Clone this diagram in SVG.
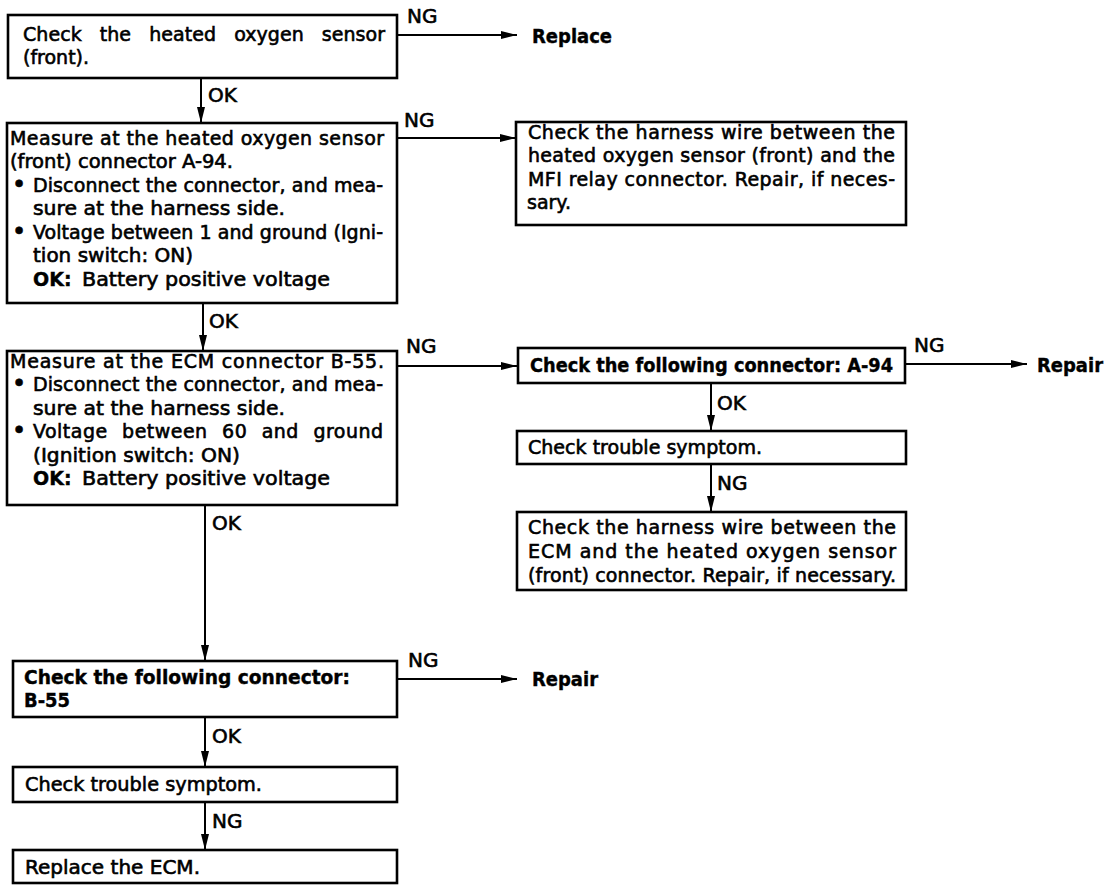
<svg xmlns="http://www.w3.org/2000/svg" width="1120" height="896" viewBox="0 0 1120 896">
<defs>
<style>
.t{font-family:"DejaVu Sans","Liberation Sans",sans-serif;font-size:19px;fill:#000;stroke:#000;stroke-width:0.6}
.b{font-weight:bold;stroke-width:0.4}
.lb{font-family:"DejaVu Sans","Liberation Sans",sans-serif;font-size:20px;fill:#000;stroke:#000;stroke-width:0.6}
.bx{fill:#fff;stroke:#000;stroke-width:2.6}
.c{stroke:#000;stroke-width:2;fill:none;marker-end:url(#ah)}
.bul{font-size:24px}
</style>
<marker id="ah" markerUnits="userSpaceOnUse" markerWidth="16" markerHeight="8" refX="16" refY="4" orient="auto">
<path d="M0,0 L16,4 L0,8 Z" fill="#000"/>
</marker>
</defs>
<rect width="1120" height="896" fill="#fff"/>

<g id="connectors">
<line class="c" x1="397" y1="35" x2="517" y2="35"/>
<line class="c" x1="201" y1="78" x2="201" y2="123"/>
<line class="c" x1="397" y1="138" x2="516" y2="138"/>
<line class="c" x1="203" y1="303" x2="203" y2="351"/>
<line class="c" x1="397" y1="366" x2="517" y2="366"/>
<line class="c" x1="905" y1="364" x2="1027" y2="364"/>
<line class="c" x1="711" y1="383" x2="711" y2="431"/>
<line class="c" x1="711" y1="464" x2="711" y2="512"/>
<line class="c" x1="205" y1="505" x2="205" y2="661"/>
<line class="c" x1="397" y1="679" x2="517" y2="679"/>
<line class="c" x1="205" y1="717" x2="205" y2="767"/>
<line class="c" x1="205" y1="802" x2="205" y2="850"/>
<text class="lb" x="407" y="23">NG</text>
<text class="lb" x="208" y="102">OK</text>
<text class="lb" x="404" y="127">NG</text>
<text class="lb" x="209" y="328">OK</text>
<text class="lb" x="406" y="353">NG</text>
<text class="lb" x="914" y="352">NG</text>
<text class="lb" x="717" y="410">OK</text>
<text class="lb" x="717" y="490">NG</text>
<text class="lb" x="212" y="530">OK</text>
<text class="lb" x="408" y="667">NG</text>
<text class="lb" x="212" y="743">OK</text>
<text class="lb" x="212" y="828">NG</text>
</g>

<g id="n1">
<rect class="bx" x="8" y="15" width="389" height="63"/>
<text class="t" x="23" y="41" style="word-spacing:12px" textLength="362" lengthAdjust="spacing">Check the heated oxygen sensor</text>
<text class="t" x="23" y="64">(front).</text>
</g>

<g id="replace1">
<text class="t b" x="532" y="43" textLength="80" lengthAdjust="spacingAndGlyphs">Replace</text>
</g>

<g id="n2">
<rect class="bx" x="7" y="123" width="390" height="180"/>
<text class="t" x="10" y="145" textLength="374" lengthAdjust="spacing">Measure at the heated oxygen sensor</text>
<text class="t" x="10" y="168" textLength="223" lengthAdjust="spacingAndGlyphs">(front) connector A-94.</text>
<text class="t bul" x="12" y="193">•</text>
<text class="t" x="33" y="192" textLength="350" lengthAdjust="spacing">Disconnect the connector, and mea-</text>
<text class="t" x="33" y="215" textLength="252" lengthAdjust="spacingAndGlyphs">sure at the harness side.</text>
<text class="t bul" x="12" y="240">•</text>
<text class="t" x="33" y="239" textLength="350" lengthAdjust="spacing">Voltage between 1 and ground (Igni-</text>
<text class="t" x="33" y="262" textLength="160" lengthAdjust="spacingAndGlyphs">tion switch: ON)</text>
<text class="t b" x="33" y="286">OK:</text>
<text class="t" x="82" y="286" textLength="248" lengthAdjust="spacingAndGlyphs">Battery positive voltage</text>
</g>

<g id="n3">
<rect class="bx" x="516" y="122" width="390" height="103"/>
<text class="t" x="528" y="139" textLength="367" lengthAdjust="spacing">Check the harness wire between the</text>
<text class="t" x="528" y="162" textLength="367" lengthAdjust="spacing">heated oxygen sensor (front) and the</text>
<text class="t" x="528" y="186" textLength="367" lengthAdjust="spacing">MFI relay connector. Repair, if neces-</text>
<text class="t" x="527" y="209">sary.</text>
</g>

<g id="n4">
<rect class="bx" x="7" y="351" width="390" height="154"/>
<text class="t" x="10" y="368" textLength="374" lengthAdjust="spacing">Measure at the ECM connector B-55.</text>
<text class="t bul" x="12" y="392">•</text>
<text class="t" x="33" y="391" textLength="350" lengthAdjust="spacing">Disconnect the connector, and mea-</text>
<text class="t" x="33" y="415" textLength="252" lengthAdjust="spacingAndGlyphs">sure at the harness side.</text>
<text class="t bul" x="12" y="439">•</text>
<text class="t" x="33" y="438" style="word-spacing:8px" textLength="350" lengthAdjust="spacing">Voltage between 60 and ground</text>
<text class="t" x="33" y="462" textLength="207" lengthAdjust="spacingAndGlyphs">(Ignition switch: ON)</text>
<text class="t b" x="33" y="485">OK:</text>
<text class="t" x="82" y="485" textLength="248" lengthAdjust="spacingAndGlyphs">Battery positive voltage</text>
</g>

<g id="n5">
<rect class="bx" x="518" y="348" width="387" height="35"/>
<text class="t b" x="530" y="372" textLength="363" lengthAdjust="spacingAndGlyphs">Check the following connector: A-94</text>
</g>

<g id="repair1">
<text class="t b" x="1037" y="372" textLength="66" lengthAdjust="spacingAndGlyphs">Repair</text>
</g>

<g id="n6">
<rect class="bx" x="517" y="431" width="389" height="33"/>
<text class="t" x="528" y="454" textLength="234" lengthAdjust="spacingAndGlyphs">Check trouble symptom.</text>
</g>

<g id="n7">
<rect class="bx" x="517" y="512" width="389" height="78"/>
<text class="t" x="528" y="534" textLength="368" lengthAdjust="spacing">Check the harness wire between the</text>
<text class="t" x="528" y="558" textLength="368" lengthAdjust="spacing">ECM and the heated oxygen sensor</text>
<text class="t" x="528" y="582" textLength="368" lengthAdjust="spacing">(front) connector. Repair, if necessary.</text>
</g>

<g id="n8">
<rect class="bx" x="13" y="661" width="384" height="56"/>
<text class="t b" x="24" y="684" textLength="326" lengthAdjust="spacingAndGlyphs">Check the following connector:</text>
<text class="t b" x="24" y="707" textLength="46" lengthAdjust="spacingAndGlyphs">B-55</text>
</g>

<g id="repair2">
<text class="t b" x="532" y="686" textLength="66" lengthAdjust="spacingAndGlyphs">Repair</text>
</g>

<g id="n9">
<rect class="bx" x="13" y="767" width="384" height="35"/>
<text class="t" x="25" y="791" textLength="237" lengthAdjust="spacingAndGlyphs">Check trouble symptom.</text>
</g>

<g id="n10">
<rect class="bx" x="13" y="850" width="384" height="33"/>
<text class="t" x="25" y="874" textLength="175" lengthAdjust="spacingAndGlyphs">Replace the ECM.</text>
</g>
</svg>
